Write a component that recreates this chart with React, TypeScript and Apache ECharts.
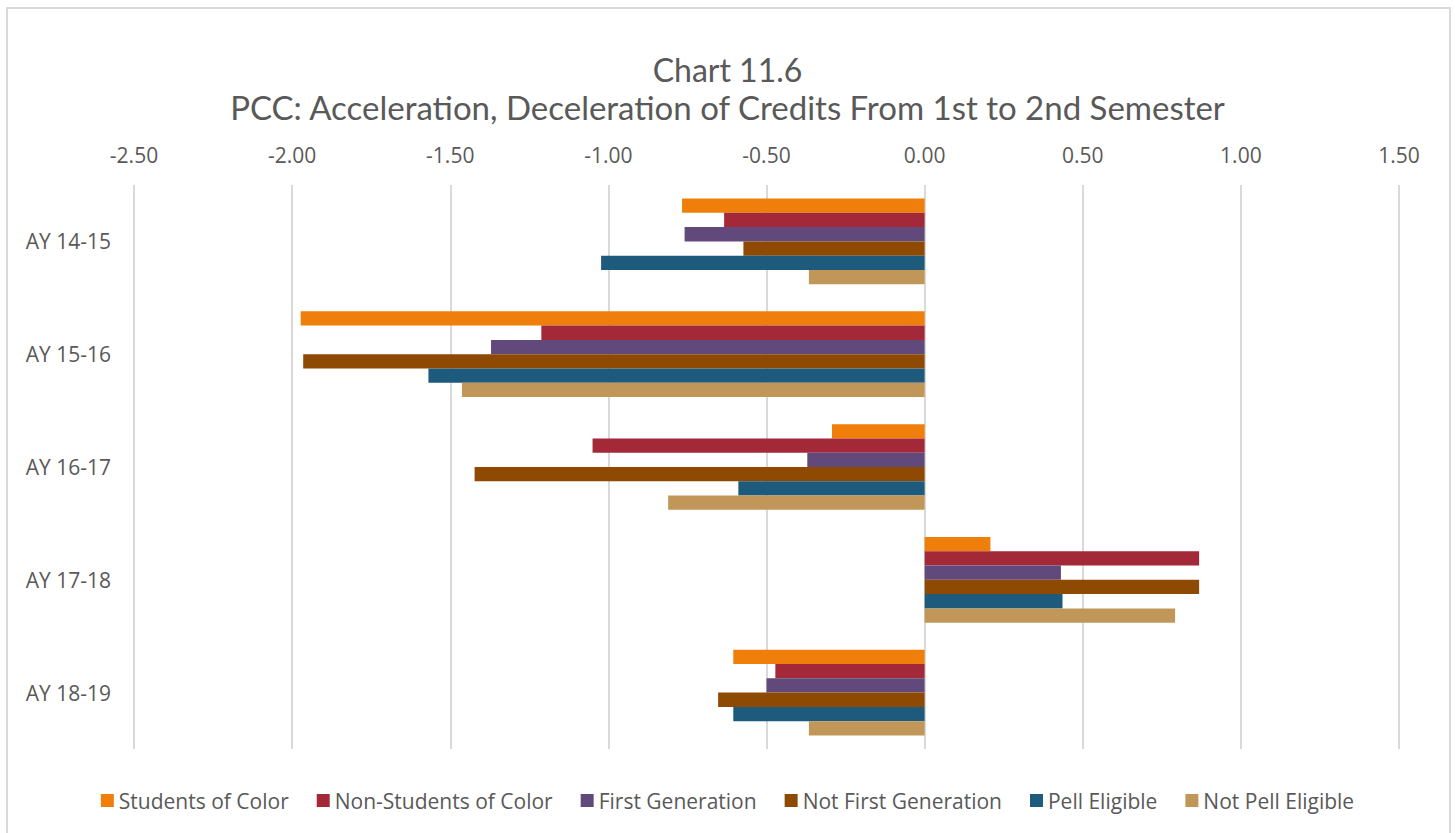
import React, { useEffect, useRef } from "react";
import * as echarts from "echarts";

// Academic years shown on the category axis (top to bottom)
const years = ["AY 14-15", "AY 15-16", "AY 16-17", "AY 17-18", "AY 18-19"];

// Change in credits from 1st to 2nd semester, per student group
const studentsOfColor = [-0.767, -1.973, -0.293, 0.208, -0.605];
const nonStudentsOfColor = [-0.634, -1.212, -1.05, 0.868, -0.472];
const firstGeneration = [-0.759, -1.371, -0.371, 0.431, -0.5];
const notFirstGeneration = [-0.573, -1.965, -1.423, 0.868, -0.653];
const pellEligible = [-1.023, -1.569, -0.589, 0.436, -0.605];
const notPellEligible = [-0.366, -1.463, -0.811, 0.792, -0.366];

const seriesNames = [
  "Students of Color",
  "Non-Students of Color",
  "First Generation",
  "Not First Generation",
  "Pell Eligible",
  "Not Pell Eligible",
];
const seriesValues = [
  studentsOfColor,
  nonStudentsOfColor,
  firstGeneration,
  notFirstGeneration,
  pellEligible,
  notPellEligible,
];
const seriesColors = ["#EF7F0A", "#A32838", "#614A7B", "#8E4A03", "#1E5A7B", "#C19759"];

const FONT = "'Open Sans', Roboto, sans-serif";
const TITLE_FONT = "Lato, 'Open Sans', sans-serif";
const TEXT = "#595959";

export default function App() {
  const ref = useRef<HTMLDivElement>(null);

  useEffect(() => {
    if (!ref.current) return;
    const chart = echarts.init(ref.current, null, { renderer: "svg" });
    chart.setOption({
      animation: false,
      backgroundColor: "#ffffff",
      textStyle: { fontFamily: FONT },
      title: {
        text: "Chart 11.6",
        subtext: "PCC: Acceleration, Deceleration of Credits From 1st to 2nd Semester",
        left: "center",
        top: 45,
        itemGap: 0,
        textStyle: {
          color: TEXT,
          fontFamily: TITLE_FONT,
          fontWeight: "normal",
          fontSize: 32,
          lineHeight: 38,
        },
        subtextStyle: {
          color: TEXT,
          fontFamily: TITLE_FONT,
          fontWeight: "normal",
          fontSize: 33,
          lineHeight: 38,
        },
      },
      graphic: [
        {
          type: "rect",
          shape: { x: 7, y: 8, width: 1443, height: 840 },
          style: { fill: "none", stroke: "#d9d9d9", lineWidth: 2 },
          silent: true,
        },
      ],
      legend: {
        top: 785,
        left: "center",
        itemWidth: 13,
        itemHeight: 13,
        itemGap: 28,
        icon: "rect",
        textStyle: { color: TEXT, fontSize: 21, fontFamily: FONT },
        data: seriesNames,
      },
      grid: { left: 134, right: 56, top: 185, bottom: 84, containLabel: false },
      xAxis: {
        type: "value",
        position: "top",
        min: -2.5,
        max: 1.5,
        interval: 0.5,
        axisLine: { show: false },
        axisTick: { show: false },
        axisLabel: {
          color: TEXT,
          fontSize: 21,
          margin: 20,
          formatter: (v: number) => v.toFixed(2),
        },
        splitLine: { show: true, lineStyle: { color: "#d9d9d9", width: 2 } },
      },
      yAxis: {
        type: "category",
        data: years,
        inverse: true,
        axisLine: { show: false },
        axisTick: { show: false },
        axisLabel: { color: TEXT, fontSize: 21, margin: 23 },
      },
      series: seriesNames.map((name, i) => ({
        name,
        type: "bar",
        data: seriesValues[i],
        barGap: "0%",
        barCategoryGap: "24%",
        itemStyle: { color: seriesColors[i] },
      })),
    });
    return () => chart.dispose();
  }, []);

  return (
    <div
      ref={ref}
      style={{ position: "absolute", left: 0, top: 0, width: 1455, height: 833 }}
    />
  );
}
